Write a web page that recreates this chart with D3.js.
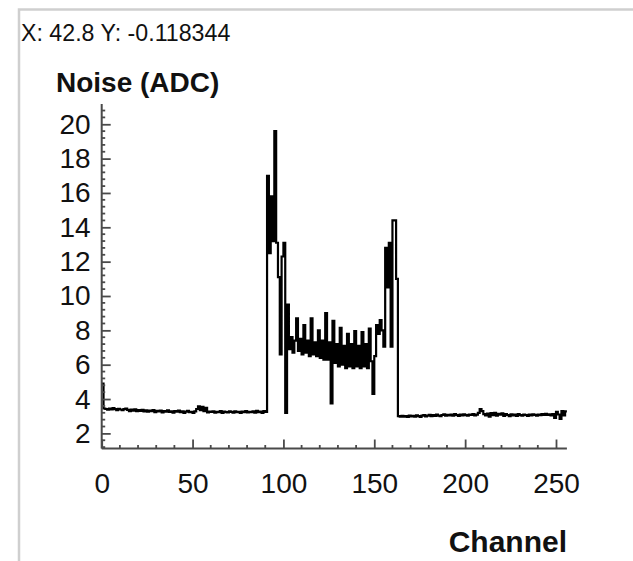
<!DOCTYPE html>
<html>
<head>
<meta charset="utf-8">
<script src="https://cdn.jsdelivr.net/npm/d3@7"></script>
<style>
  html, body { margin: 0; padding: 0; background: #fff; }
  svg { display: block; }
  text { font-family: "Liberation Sans", Arial, sans-serif; fill: #111; }
</style>
</head>
<body>
<div id="chart"></div>
<script>
// Per-channel noise (ADC counts), channels 0..255
const noiseLeft = [
  4.9,
  3.45, 3.42, 3.38, 3.44, 3.40, 3.47, 3.41, 3.36, 3.43, 3.39,
  3.35, 3.41, 3.44, 3.37, 3.30, 3.38, 3.33, 3.40, 3.29, 3.35,
  3.31, 3.37, 3.28, 3.34, 3.26, 3.32, 3.29, 3.35, 3.24, 3.31,
  3.28, 3.33, 3.22, 3.30, 3.27, 3.34, 3.25, 3.29, 3.21, 3.30,
  3.26, 3.32, 3.24, 3.28, 3.19, 3.27, 3.31, 3.23, 3.26, 3.20,
  3.28, 3.42, 3.58, 3.36, 3.55, 3.30, 3.49, 3.22, 3.27, 3.25,
  3.29, 3.21, 3.26, 3.23, 3.30, 3.20, 3.27, 3.24, 3.22, 3.28,
  3.25, 3.21, 3.29, 3.23, 3.26, 3.19, 3.27, 3.24, 3.30, 3.22,
  3.26, 3.23, 3.29, 3.21, 3.31, 3.24, 3.27, 3.20, 3.30, 3.25
];
const noiseActive = [
  17.0, 12.5, 15.8, 13.2, 19.6, 13.1, 11.1, 6.6, 12.3, 13.1, // 91-100
  3.2, 9.5, 6.9, 7.6, 6.7, 7.4, 8.7, 6.8, 7.5, 6.6,          // 101-110
  8.3, 6.7, 7.4, 6.5, 8.7, 6.6, 7.3, 6.5, 8.0, 6.4,          // 111-120
  7.4, 6.3, 9.0, 6.3, 7.3, 3.75, 8.55, 6.1, 7.2, 5.9,        // 121-130
  8.15, 6.0, 7.1, 5.8, 7.8, 5.9, 7.2, 5.8, 7.95, 5.9,        // 131-140
  7.1, 5.8, 7.9, 5.9, 7.2, 5.8, 8.1, 6.2, 4.3, 6.5,          // 141-150
  8.3, 7.8, 8.6, 8.0, 7.05, 12.8, 10.5, 13.1, 7.05, 14.4,    // 151-160
  14.4, 11.0                                                 // 161-162
];
const noiseRight = [
  3.00, 2.97, 3.02, 2.98, 3.01, 2.96, 3.03, 2.99,
  3.02, 2.98, 3.05, 3.00, 2.96, 3.04, 3.07, 2.99, 3.03, 3.08,
  3.01, 3.06, 3.02, 3.09, 3.04, 3.00, 3.07, 3.11, 3.03, 3.08,
  3.05, 3.10, 3.04, 3.12, 3.07, 3.02, 3.09, 3.05, 3.11, 3.06,
  3.03, 3.10, 3.08, 3.13, 3.05, 3.09, 3.20, 3.42, 3.30, 3.12,
  3.05, 3.15, 2.98, 3.18, 3.06, 3.20, 3.03, 3.14, 3.09, 3.17,
  3.02, 3.12, 3.07, 3.00, 3.11, 3.05, 3.09, 3.02, 3.13, 3.06,
  3.04, 3.10, 3.07, 3.02, 3.09, 3.05, 3.11, 3.08, 3.03, 3.10,
  3.06, 3.12, 3.08, 3.14, 3.07, 3.11, 3.05, 3.13, 2.90, 3.25,
  3.10, 2.85, 3.30, 3.05, 3.28
];
const noise = noiseLeft.concat(noiseActive, noiseRight);

const xDomain = [0, 256];
const yDomain = [1.12, 21.18];
const xMajorTicks = [0, 50, 100, 150, 200, 250];
const yMajorTicks = [2, 4, 6, 8, 10, 12, 14, 16, 18, 20];
const xStep = 10;   // minor tick spacing, channels
const yStep = 0.4;  // minor tick spacing, ADC

const infoText = "X: 42.8 Y: -0.118344";
const yTitle = "Noise (ADC)";
const xTitle = "Channel";

const W = 633, H = 561;
const svg = d3.select("#chart").append("svg")
  .attr("width", W).attr("height", H);

// canvas frame
svg.append("path")
  .attr("d", `M19,${H} L19,9.5 L${W},9.5`)
  .attr("fill", "none").attr("stroke", "#cfcfcf").attr("stroke-width", 2.5);

svg.append("text")
  .attr("x", 21).attr("y", 40.5)
  .style("font-size", "23.2px")
  .text(infoText);

const x = d3.scaleLinear().domain(xDomain).range([101.7, 566.9]);
const y = d3.scaleLinear().domain(yDomain).range([448.5, 104]);

// histogram outline (step line over bin edges)
const bins = noise.map((v, i) => ({ edge: i, v }));
bins.push({ edge: noise.length, v: noise[noise.length - 1] });
const line = d3.line()
  .x(d => x(d.edge))
  .y(d => y(d.v))
  .curve(d3.curveStepAfter);
svg.append("path")
  .attr("d", line(bins))
  .attr("fill", "none")
  .attr("stroke", "#000")
  .attr("stroke-width", 2.2)
  .attr("stroke-linejoin", "miter");

// minor tick values
const xMinor = d3.range(xDomain[0], xDomain[1] + 1e-9, xStep)
  .filter(v => !xMajorTicks.includes(v));
const yMinor = d3.range(0.4, yDomain[1], yStep)
  .map(v => +v.toFixed(1))
  .filter(v => v >= yDomain[0] && !yMajorTicks.some(t => Math.abs(t - v) < 1e-6));

const axisColor = "#4a4a4a";

// x axis
const gx = svg.append("g").attr("transform", `translate(0,${y.range()[0]})`);
gx.call(d3.axisBottom(x).tickValues(xMajorTicks).tickSize(-9).tickPadding(25).tickFormat(d3.format("d")));
gx.selectAll(".minor").data(xMinor).enter().append("line")
  .attr("class", "minor")
  .attr("x1", d => x(d)).attr("x2", d => x(d))
  .attr("y1", 0).attr("y2", -3.5);

// y axis
const gy = svg.append("g").attr("transform", `translate(${x.range()[0]},0)`);
gy.call(d3.axisLeft(y).tickValues(yMajorTicks).tickSize(-9).tickPadding(11).tickFormat(d3.format("d")));
gy.selectAll(".minor").data(yMinor).enter().append("line")
  .attr("class", "minor")
  .attr("y1", d => y(d)).attr("y2", d => y(d))
  .attr("x1", 0).attr("x2", 3.5);

[gx, gy].forEach(g => {
  g.select(".domain").attr("stroke", axisColor).attr("stroke-width", 2);
  g.selectAll(".tick line, line.minor").attr("stroke", axisColor).attr("stroke-width", 1.8);
  g.selectAll(".tick text").attr("fill", "#111")
    .style("font-size", "28px").style("font-family", "Liberation Sans, Arial, sans-serif");
});
gx.select(".domain").attr("d", `M${x.range()[0]},0H${x.range()[1]}`);
gy.select(".domain").attr("d", `M0,${y.range()[0]}V${y.range()[1]}`);

// axis titles
svg.append("text")
  .attr("x", 56).attr("y", 92)
  .style("font-size", "28px").style("font-weight", "bold")
  .text(yTitle);
svg.append("text")
  .attr("x", 567).attr("y", 552)
  .attr("text-anchor", "end")
  .style("font-size", "30px").style("font-weight", "bold")
  .text(xTitle);
</script>
</body>
</html>
